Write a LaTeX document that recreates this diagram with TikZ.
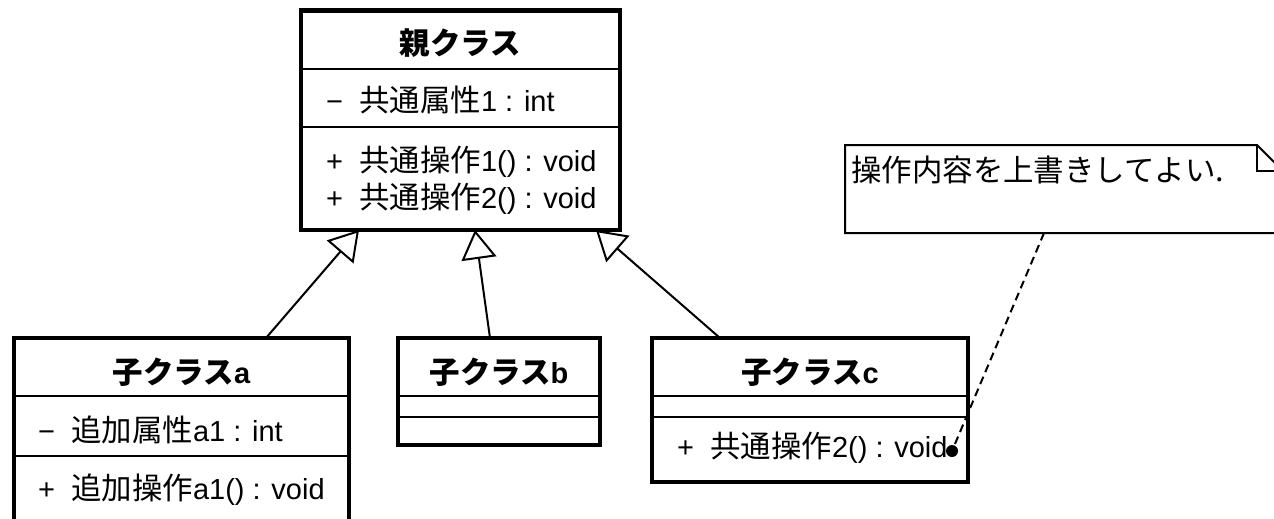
\documentclass[tikz,border=0pt]{standalone}
\usetikzlibrary{fit,arrows.meta}
\usepackage{fontspec}
\setmainfont{Liberation Sans}
\newfontfamily\jp[Scale=1.05]{Noto Sans CJK JP}
\newcommand\ja[1]{{\jp #1}}

\begin{document}
\begin{tikzpicture}[x=1pt,y=-1pt,
    cls/.style={draw,line width=4.5pt,rectangle,inner sep=0pt,outer sep=0pt},
    sep/.style={line width=2pt},
    txt/.style={anchor=west,inner sep=0pt,font=\fontsize{29}{34}\selectfont},
    ttl/.style={inner sep=0pt,font=\fontsize{29}{34}\selectfont\bfseries},
    inherit/.style={line width=2pt,-{Triangle[open,length=29pt,width=35pt]}}]
    \useasboundingbox (0,0) rectangle (1274,519);
    \clip (0,0) rectangle (1274,519);
    \node[cls,fit={(301,10.5) (620,230)}] (parent) {};
    \node[cls,fit={(14,338) (349,530)}] (a) {};
    \node[cls,fit={(398,338) (600,445)}] (b) {};
    \node[cls,fit={(652,338) (968,482)}] (c) {};
    \foreach \y in {69,127}{
      \draw[sep] (parent.west |- 0,\y) -- (parent.east |- 0,\y);
    }
    \draw[sep] (a.west |- 0,396) -- (a.east |- 0,396);
    \draw[sep] (a.west |- 0,456) -- (a.east |- 0,456);
    \foreach \k in {b,c}{
      \draw[sep] (\k.west |- 0,396) -- (\k.east |- 0,396);
      \draw[sep] (\k.west |- 0,417) -- (\k.east |- 0,417);
    }
    \node[ttl] (parent-name) at (parent.north |- 0,43) {\ja{親クラス}};
    \node[txt] (parent-attr) at (326,100) {−\ \ \ja{共通属性}1 : int};
    \node[txt] (parent-op1) at (326,162) {+\ \ \ja{共通操作}1() : void};
    \node[txt] (parent-op2) at (326,199) {+\ \ \ja{共通操作}2() : void};
    \node[ttl] (a-name) at (a.north |- 0,372) {\ja{子クラス}a};
    \node[txt] (a-attr) at (38,430) {−\ \ \ja{追加属性}a1 : int};
    \node[txt] (a-op) at (38,490) {+\ \ \ja{追加操作}a1() : void};
    \node[ttl] (b-name) at (b.north |- 0,372) {\ja{子クラス}b};
    \node[ttl] (c-name) at (c.north |- 0,372) {\ja{子クラス}c};
    \node[txt] (c-op) at (677,448) {+\ \ \ja{共通操作}2() : void};
    \draw[inherit] ([xshift=84.5pt]a.north) -- ([xshift=-101.5pt]parent.south);
    \draw[inherit] ([xshift=-9pt]b.north) -- ([xshift=14.5pt]parent.south);
    \draw[inherit] ([xshift=-90pt]c.north) -- ([xshift=135.5pt]parent.south);
    \node[fit={(845,145) (1283,233)},inner sep=0pt,outer sep=0pt] (note) {};
    \draw[line width=2pt] (note.north west) -- ([xshift=-26pt]note.north east)
      -- ([yshift=-26pt]note.north east) -- (note.south east) -- (note.south west) -- cycle;
    \draw[line width=2pt] ([xshift=-26pt]note.north east) |- ([yshift=-26pt]note.north east);
    \node[txt] (note-text) at (851,170) {\ja{操作内容を上書きしてよい.}};
    \node[circle,fill,inner sep=0pt,minimum size=12pt] (dot) at (952,451) {};
    \coordinate (note-foot) at ([xshift=-20pt]note.south);
    \draw[line width=2pt,dash pattern=on 8pt off 5pt] (note-foot) -- (dot);
\end{tikzpicture}
\end{document}
